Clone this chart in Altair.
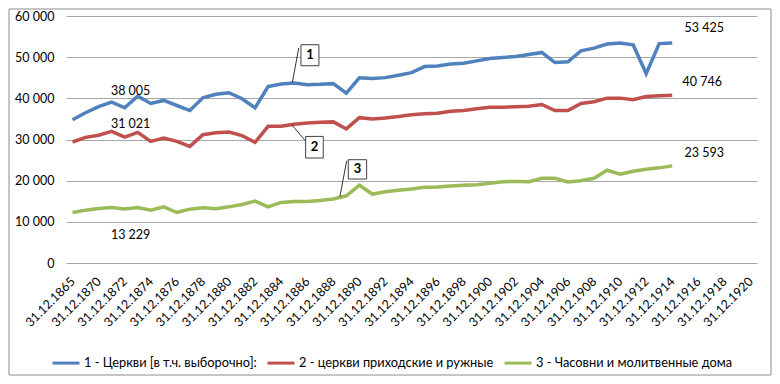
import json
import altair as alt
import pandas as pd

# ---- categories (text axis, every other one labelled) ----
CATS = ["31.12.1865", "31.12.1869"] + ["31.12.%d" % y for y in range(1870, 1921)]

SERIES = [
    "1 - Церкви [в т.ч. выборочно]:",
    "2 - церкви приходские и ружные",
    "3 - Часовни и молитвенные дома",
]
COLORS = ["#4F81BD", "#C0504D", "#9BBB59"]

CHURCHES = [34800, 36500, 38005, 39070, 37700, 40540, 38750, 39490, 38260, 37040,
            40150, 41000, 41370, 39900, 37700, 42840, 43470, 43720, 43320, 43400,
            43570, 41270, 45000, 44790, 45030, 45600, 46250, 47720, 47870, 48360,
            48530, 49100, 49680, 49920, 50150, 50650, 51150, 48700, 48860, 51550,
            52200, 53180, 53420, 53000, 46010, 53300, 53425]
PARISH = [29390, 30520, 31021, 31980, 30600, 31740, 29540, 30360, 29540, 28320,
          31170, 31650, 31830, 30930, 29300, 33200, 33200, 33690, 34030, 34180,
          34280, 32570, 35300, 35010, 35250, 35570, 35990, 36230, 36390, 36880,
          37040, 37450, 37850, 37850, 37950, 38100, 38510, 37040, 37040, 38750,
          39170, 40050, 40050, 39660, 40460, 40640, 40746]
CHAPELS = [12270, 12840, 13229, 13500, 13150, 13500, 12840, 13640, 12270, 13080,
           13400, 13200, 13640, 14230, 15040, 13640, 14720, 14960, 14960, 15210,
           15530, 16330, 18900, 16750, 17310, 17650, 17970, 18380, 18460, 18700,
           18870, 19030, 19360, 19760, 19800, 19760, 20590, 20590, 19680, 20000,
           20590, 22540, 21560, 22300, 22790, 23110, 23593]

# data labels: (series index, point index, text, dx, dy)
LABELS = [
    (0, 2, "38 005", 32, -16),
    (1, 2, "31 021", 32, -11),
    (2, 2, "13 229", 32, 26),
    (0, 46, "53 425", 32, -15),
    (1, 46, "40 746", 30, -13),
    (2, 46, "23 593", 32, -13),
]

# callout boxes "1", "2", "3": box extents and leader lines in data units
BOX_TEXT = ["1", "2", "3"]
BOX_X = [17.52, 17.88, 21.15]
BOX_X2 = [18.90, 19.23, 22.56]
BOX_Y = [53020, 30750, 25090]
BOX_Y2 = [47920, 25500, 20400]
LEAD_X = [17.35, 16.86, 21.03]
LEAD_X2 = [16.86, 17.83, 20.51]
LEAD_Y = [52220, 33420, 24850]
LEAD_Y2 = [43860, 29780, 16180]

FONT = "Lato"

rows = []
for name, vals in zip(SERIES, [CHURCHES, PARISH, CHAPELS]):
    for i, v in enumerate(vals):
        rows.append({"idx": i, "cat": CATS[i], "value": v, "series": name})
df = pd.DataFrame(rows)

series_vals = [CHURCHES, PARISH, CHAPELS]
lab_df = pd.DataFrame([
    {"key": k, "idx": p, "value": series_vals[s][p], "text": t}
    for k, (s, p, t, dx, dy) in enumerate(LABELS)
])

box_df = pd.DataFrame({
    "text": BOX_TEXT, "x": BOX_X, "x2": BOX_X2, "y": BOX_Y, "y2": BOX_Y2,
    "xc": [(a + b) / 2 for a, b in zip(BOX_X, BOX_X2)],
    "yc": [(a + b) / 2 for a, b in zip(BOX_Y, BOX_Y2)],
    "lx": LEAD_X, "lx2": LEAD_X2, "ly": LEAD_Y, "ly2": LEAD_Y2,
})

label_expr = json.dumps(CATS, ensure_ascii=False) + "[datum.value]"

xscale = alt.Scale(domain=[-0.5, len(CATS) - 0.5], nice=False, zero=False)
yscale = alt.Scale(domain=[0, 60000], nice=False)

x_axis = alt.Axis(values=list(range(0, len(CATS), 2)), labelExpr=label_expr,
                  labelAngle=-45, labelAlign="right", labelBaseline="middle",
                  labelPadding=16, ticks=False, grid=False, domainColor="#a6a6a6",
                  labelFontSize=12.5, labelOverlap=False, labelBound=False,
                  labelSeparation=0, title=None)
y_axis = alt.Axis(values=list(range(0, 60001, 10000)),
                  labelExpr="replace(format(datum.value, ','), ',', ' ')",
                  ticks=False, domain=False, gridColor="#a6a6a6", labelPadding=12,
                  labelFontSize=12.5, labelOverlap=False, title=None)


def xq(field):
    return alt.X(field, type="quantitative", scale=xscale, axis=x_axis)


def yq(field):
    return alt.Y(field, type="quantitative", scale=yscale, axis=y_axis)


lines = alt.Chart(df).mark_line(strokeWidth=3.5).encode(
    x=xq("idx"),
    y=yq("value"),
    color=alt.Color(
        "series:N",
        scale=alt.Scale(domain=SERIES, range=COLORS),
        legend=alt.Legend(orient="none", legendX=-15, legendY=332,
                          direction="horizontal", title=None, symbolType="stroke",
                          symbolSize=729, symbolStrokeWidth=3, labelFontSize=12.8,
                          labelOffset=3, columnPadding=4, padding=0,
                          labelFont=FONT, labelLimit=400),
    ),
    order="idx:Q",
)

label_layers = []
for k, (s, p, t, dx, dy) in enumerate(LABELS):
    label_layers.append(
        alt.Chart(lab_df).transform_filter(alt.datum.key == k)
        .mark_text(font=FONT, fontSize=12.5, color="#000000", dx=dx, dy=dy)
        .encode(x=xq("idx"), y=yq("value"), text="text:N")
    )

leaders = alt.Chart(box_df).mark_rule(color="#000000", strokeWidth=0.8).encode(
    x=xq("lx"), x2="lx2:Q", y=yq("ly"), y2="ly2:Q",
)
boxes = alt.Chart(box_df).mark_rect(fill="#ffffff", stroke="#404040", strokeWidth=1).encode(
    x=xq("x"), x2="x2:Q", y=yq("y"), y2="y2:Q",
)
box_text = alt.Chart(box_df).mark_text(font=FONT, fontSize=13, fontWeight="bold",
                                       color="#000000").encode(
    x=xq("xc"), y=yq("yc"), text="text:N",
)

frame = alt.Chart(pd.DataFrame({"a": [0]})).mark_rect(
    filled=False, stroke="#8c8c8c", strokeWidth=1
).encode(x=alt.value(-57), x2=alt.value(705), y=alt.value(-7), y2=alt.value(359))

chart = alt.layer(
    frame, lines, *label_layers, leaders, boxes, box_text
).properties(
    width=691, height=247,
    padding={"left": 58, "top": 8, "right": 15, "bottom": 113},
    autosize=alt.AutoSizeParams(type="none"),
    background="#ffffff",
).configure_view(stroke=None).configure_axis(
    labelFont=FONT, labelColor="#000000"
).configure_axisX(labelOverlap=False)

chart.save("out.html", embed_options={"renderer": "svg", "actions": False})
